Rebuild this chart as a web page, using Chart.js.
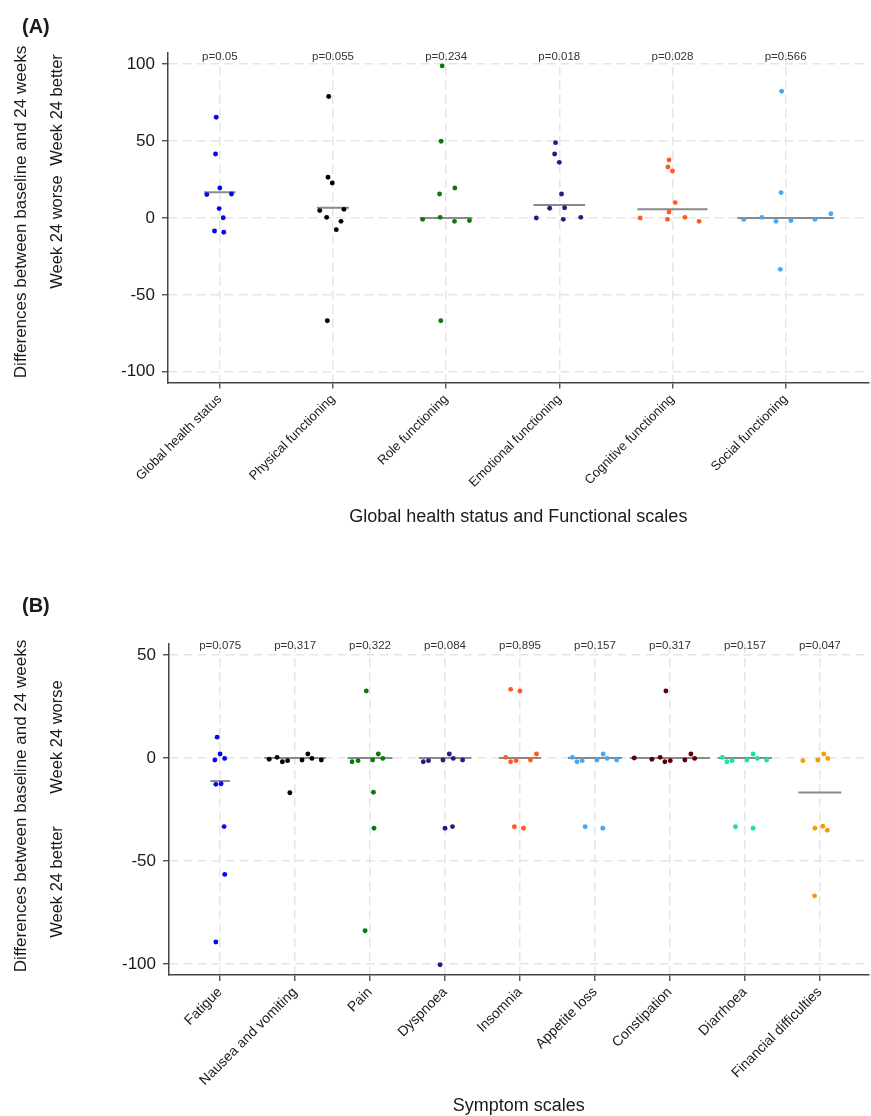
<!DOCTYPE html>
<html><head><meta charset="utf-8">
<script src="https://cdn.jsdelivr.net/npm/chart.js@4.4.1/dist/chart.umd.min.js"></script>
<style>
html,body{margin:0;padding:0;background:#fff;}
#wrap{position:relative;width:871px;height:1116px;background:#fff;}
canvas{position:absolute;left:0;}
#cA{top:0;} #cB{top:560px;}
</style></head><body>
<div id="wrap"><canvas id="cA" width="871" height="560"></canvas><canvas id="cB" width="871" height="556"></canvas></div>
<script>
// ---------- Panel A data ----------
const catsA = ['Global health status','Physical functioning','Role functioning','Emotional functioning','Cognitive functioning','Social functioning'];
const pA = ['p=0.05','p=0.055','p=0.234','p=0.018','p=0.028','p=0.566'];
const medA = [16.8, 6.7, 0, 8.4, 5.6, 0];
const yTicksA = [-100, -50, 0, 50, 100];
const ghsVals  = [65.5, 41.6, 19.5, 15.2, 15.6, 6.1, 0.2, -8.5, -9.3];
const ghsJit   = [-0.032, -0.038, 0.0, -0.115, 0.103, -0.006, 0.03, -0.047, 0.035];
const physVals = [79.0, 26.5, 22.8, 4.8, 5.6, 0.4, -2.2, -7.6, -66.8];
const physJit  = [-0.038, -0.044, -0.006, -0.117, 0.097, -0.056, 0.071, 0.029, -0.05];
const roleVals = [98.9, 49.9, 19.5, 15.6, -0.9, 0.4, -2.2, -1.7, -66.8];
const roleJit  = [-0.035, -0.044, 0.077, -0.058, -0.208, -0.053, 0.074, 0.206, -0.047];
const emoVals  = [49.0, 41.6, 36.2, 15.6, 6.3, 6.7, 0, -0.9, 0.4];
const emoJit   = [-0.033, -0.041, 0, 0.02, -0.085, 0.047, -0.203, 0.035, 0.19];
const cogVals  = [37.7, 33.2, 30.6, 10.0, 3.9, 0, -0.9, 0.4, -2.2];
const cogJit   = [-0.03, -0.04, 0, 0.024, -0.03, -0.285, -0.044, 0.11, 0.235];
const socVals  = [82.4, 16.5, -0.9, 0.4, -2.2, -1.7, -0.9, 2.8, -33.4];
const socJit   = [-0.035, -0.04, -0.37, -0.21, -0.085, 0.047, 0.26, 0.4, -0.047];

// ---------- Panel B data ----------
const catsB = ['Fatigue','Nausea and vomiting','Pain','Dyspnoea','Insomnia','Appetite loss','Constipation','Diarrhoea','Financial difficulties'];
const pB = ['p=0.075','p=0.317','p=0.322','p=0.084','p=0.895','p=0.157','p=0.317','p=0.157','p=0.047'];
const medB = [-11.2, 0, 0, 0, 0, 0, 0, 0, -16.7];
const yTicksB = [-100, -50, 0, 50];
const fatVals  = [10.1, 1.9, -1.0, -0.2, -12.8, -12.5, -33.3, -56.5, -89.3];
const fatJit   = [-0.04, 0, -0.07, 0.06, -0.057, 0.013, 0.053, 0.062, -0.057];
const nauVals  = [-0.6, 0.3, -1.8, -1.3, -1.0, 1.9, -0.2, -1.0, -16.9];
const nauJit   = [-0.345, -0.24, -0.17, -0.1, 0.093, 0.17, 0.225, 0.35, -0.07];
const painVals = [32.5, -1.8, -1.3, -1.0, 1.9, -0.2, -16.6, -34.1, -83.8];
const painJit  = [-0.05, -0.24, -0.16, 0.035, 0.11, 0.17, 0.045, 0.053, -0.066];
const dysVals  = [-1.8, -1.3, -1.0, 1.9, -0.2, -1.0, -34.1, -33.3, -100.3];
const dysJit   = [-0.29, -0.22, -0.027, 0.057, 0.11, 0.235, 0, 0.1, -0.066];
const insVals  = [33.3, 32.5, 0.3, -1.8, -1.3, -1.0, 1.9, -33.4, -34.1];
const insJit   = [-0.125, 0, -0.19, -0.125, -0.053, 0.14, 0.22, -0.075, 0.048];
const appVals  = [0.3, -1.8, -1.3, -1.0, 1.9, -0.2, -1.0, -33.4, -34.1];
const appJit   = [-0.3, -0.24, -0.17, 0.027, 0.11, 0.163, 0.29, -0.13, 0.105];
const conVals  = [32.5, 0, -0.6, 0.3, -1.8, -1.3, -1.0, 1.9, -0.2];
const conJit   = [-0.053, -0.475, -0.24, -0.13, -0.067, 0.005, 0.2, 0.28, 0.33];
const diaVals  = [0.3, -1.8, -1.3, -1.0, 1.9, -0.2, -1.0, -33.4, -34.1];
const diaJit   = [-0.3, -0.24, -0.17, 0.03, 0.11, 0.167, 0.29, -0.125, 0.11];
const finVals  = [-1.3, -1.0, 1.9, -0.2, -34.1, -33.1, -35.1, -66.9];
const finJit   = [-0.226, -0.027, 0.053, 0.106, -0.066, 0.04, 0.1, -0.07];

const colorsA = ['#0505f0','#000000','#0a7a0a','#2b1a7e','#ff5a24','#45a8f5'];
const colorsB = ['#0505f0','#000000','#0a7a0a','#2b1a7e','#ff5a24','#45a8f5','#5a0008','#1be3a8','#f39c0a'];

const FONT = "'Liberation Sans', Arial, Helvetica, sans-serif";
const TXT = '#1a1a1a';

function buildDatasets(vals, jits, meds, colors, padUnits) {
  const ds = [];
  vals.forEach((arr, i) => {
    ds.push({
      type: 'scatter',
      data: arr.map((v, k) => ({x: i + 1 + jits[i][k], y: v})),
      backgroundColor: colors[i], borderColor: colors[i],
      pointRadius: 2.45, pointBorderWidth: 0, pointHoverRadius: 2.45,
      order: 1, clip: false
    });
  });
  meds.forEach((m, i) => {
    const half = Math.max(...jits[i].map(Math.abs)) + padUnits;
    ds.push({
      type: 'line',
      data: [{x: i + 1 - half, y: m}, {x: i + 1 + half, y: m}],
      borderColor: '#8a8a8a', borderWidth: 2, pointRadius: 0, fill: false,
      order: 2, clip: false
    });
  });
  return ds;
}

function textPlugin(o) {
  return {
    id: 'txt' + o.letter,
    afterDraw(chart) {
      const ctx = chart.ctx, xs = chart.scales.x, ys = chart.scales.y;
      ctx.save();
      ctx.fillStyle = '#333';
      ctx.font = '11.5px ' + FONT;
      ctx.textAlign = 'center';
      ctx.textBaseline = 'middle';
      o.pvals.forEach((p, i) => ctx.fillText(p, xs.getPixelForValue(i + 1), ys.getPixelForValue(o.pY)));
      ctx.fillStyle = TXT;
      ctx.font = 'bold 20px ' + FONT;
      ctx.textAlign = 'left';
      ctx.fillText(o.letter, 22, o.letterY);
      ctx.font = '18px ' + FONT;
      ctx.textAlign = 'center';
      ctx.fillText(o.xTitle, (chart.chartArea.left + chart.chartArea.right) / 2, o.xTitleY);
      const rot = (t, x, y, size) => {
        ctx.save(); ctx.translate(x, y); ctx.rotate(-Math.PI / 2);
        ctx.font = size + 'px ' + FONT; ctx.fillText(t, 0, 0); ctx.restore();
      };
      rot('Differences between baseline and 24 weeks', 21, o.diffY, 17);
      rot(o.upLabel, 57, o.upY, 16.5);
      rot(o.downLabel, 57, o.downY, 16.5);
      ctx.restore();
    }
  };
}

function makeChart(id, o) {
  const gridCommon = {color: '#e5e5e5', lineWidth: 1.5, drawTicks: true, tickLength: 6, tickColor: '#444', tickWidth: 1.3};
  const borderCommon = {display: true, color: '#444', width: 1.5, dash: [9, 5]};
  return new Chart(document.getElementById(id), {
    type: 'scatter',
    data: {datasets: buildDatasets(o.vals, o.jits, o.meds, o.colors, o.pad)},
    options: {
      responsive: false, animation: false, devicePixelRatio: 1,
      layout: {padding: {top: o.top, left: 0, right: 0, bottom: 0}},
      plugins: {legend: {display: false}, tooltip: {enabled: false}},
      events: [],
      scales: {
        x: {
          type: 'linear', min: o.xmin, max: o.xmax,
          afterBuildTicks: s => { s.ticks = o.cats.map((c, i) => ({value: i + 1})); },
          afterFit: s => { s.height = o.xh; },
          ticks: {callback: v => o.cats[Math.round(v) - 1] || '', autoSkip: false, minRotation: 45, maxRotation: 45,
                  font: {family: FONT, size: o.xfs}, color: TXT, padding: 3},
          grid: gridCommon, border: borderCommon
        },
        y: {
          type: 'linear', min: o.ymin, max: o.ymax,
          afterBuildTicks: s => { s.ticks = o.yTicks.map(v => ({value: v})); },
          afterFit: s => { s.width = o.yw; },
          ticks: {font: {family: FONT, size: 17}, color: TXT, padding: 7},
          grid: gridCommon, border: borderCommon
        }
      }
    },
    plugins: [textPlugin(o)]
  });
}

makeChart('cA', {
  cats: catsA, vals: [ghsVals, physVals, roleVals, emoVals, cogVals, socVals],
  jits: [ghsJit, physJit, roleJit, emoJit, cogJit, socJit], meds: medA, colors: colorsA, pad: 0.025,
  top: 52.7, xh: 177.5, yw: 168, xmin: 0.542, xmax: 6.733, ymin: -107, ymax: 107.5, yTicks: yTicksA, xfs: 13,
  pvals: pA, pY: 105, letter: '(A)', letterY: 27, xTitle: 'Global health status and Functional scales', xTitleY: 517,
  diffY: 212, upLabel: 'Week 24 better', upY: 110, downLabel: 'Week 24 worse', downY: 232
});
makeChart('cB', {
  cats: catsB, vals: [fatVals, nauVals, painVals, dysVals, insVals, appVals, conVals, diaVals, finVals],
  jits: [fatJit, nauJit, painJit, dysJit, insJit, appJit, conJit, diaJit, finJit], meds: medB, colors: colorsB, pad: 0.06,
  top: 84, xh: 141, yw: 169, xmin: 0.318, xmax: 9.65, ymin: -105.3, ymax: 55.3, yTicks: yTicksB, xfs: 14,
  pvals: pB, pY: 54.5, letter: '(B)', letterY: 46, xTitle: 'Symptom scales', xTitleY: 546,
  diffY: 246, upLabel: 'Week 24 worse', upY: 177, downLabel: 'Week 24 better', downY: 322
});
</script>
</body></html>
